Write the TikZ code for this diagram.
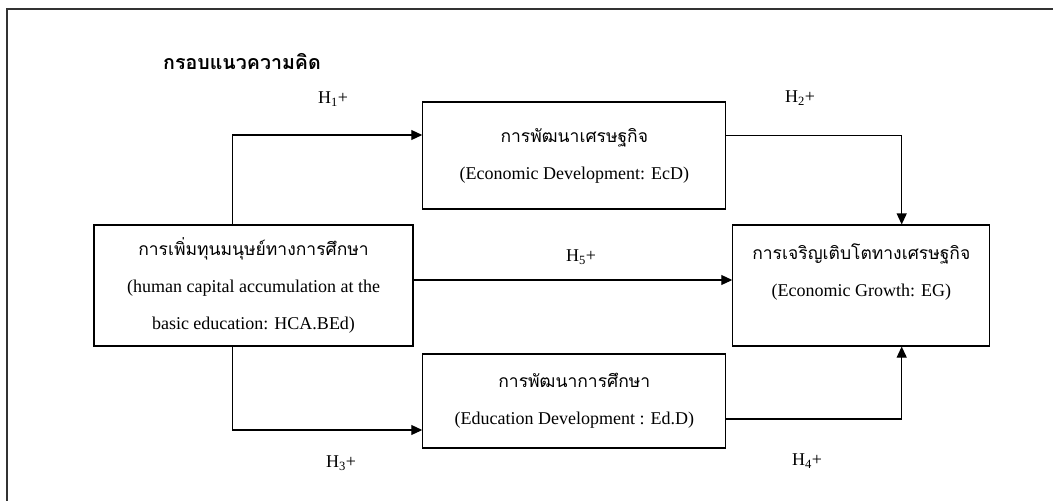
\documentclass[tikz,border=0pt]{standalone}
\usepackage{fontspec}
\setmainfont{Liberation Serif}
\newfontfamily\thaifont[Script=Thai]{Loma}
\usetikzlibrary{arrows.meta, positioning}

\newcommand{\thai}[1]{{\thaifont\fontsize{17.5}{37}\selectfont #1}}

\tikzset{
  box/.style={draw, line width=1.1pt, align=center, inner sep=0pt,
    font=\fontsize{18}{37}\selectfont},
  link/.style={line width=1.1pt, -{Triangle[length=11pt, width=10pt]}},
  hyp/.style={font=\fontsize{18}{20}\selectfont, inner sep=0pt},
}

\begin{document}
\begin{tikzpicture}[x=1pt, y=-1pt]
    \useasboundingbox (0,0) rectangle (1053,501);
    \draw[black!80, line width=1.3pt] (7,9) rectangle (1070,520);

    % title
    \node[font=\thaifont\fontsize{19.6}{20}\selectfont\bfseries] (title) at (242,62) {กรอบแนวความคิด};

    % boxes
    \node[box, minimum width=319, minimum height=121] (hca) at (253.5,285.5)
        {\thai{การเพิ่มทุนมนุษย์ทางการศึกษา}\\(human capital accumulation at the\\basic education: HCA.BEd)};
    \node[box, minimum width=303, minimum height=107] (ecd) at (574.3,155.5)
        {\thai{การพัฒนาเศรษฐกิจ}\\(Economic Development: EcD)};
    \node[box, minimum width=303, minimum height=94] (edd) at (574.3,401)
        {\thai{การพัฒนาการศึกษา}\\(Education Development : Ed.D)};
    \node[box, minimum width=257, minimum height=121] (eg) at (861.3,285.5)
        {\thai{การเจริญเติบโตทางเศรษฐกิจ}\\(Economic Growth: EG)\\[-7pt]\mbox{}};

    % paths
    \draw[link] ([xshift=139pt]hca.north west) |- ([yshift=20.5pt]ecd.west);
    \draw[link] ([xshift=139pt]hca.south west) |- ([yshift=-29pt]edd.west);
    \draw[link] ([yshift=5.5pt]hca.east) -- ([yshift=5.5pt]eg.west);
    \draw[link] ([yshift=20pt]ecd.east) -| ([xshift=40.4pt]eg.north);
    \draw[link] ([yshift=-18pt]edd.east) -| ([xshift=40.4pt]eg.south);

    % hypotheses
    \node[hyp] (h1) at (333,99) {H\textsubscript{1}+};
    \node[hyp] (h2) at (800,98) {H\textsubscript{2}+};
    \node[hyp] (h3) at (341,463) {H\textsubscript{3}+};
    \node[hyp] (h4) at (807,461) {H\textsubscript{4}+};
    \node[hyp] (h5) at (581,257) {H\textsubscript{5}+};
\end{tikzpicture}
\end{document}
